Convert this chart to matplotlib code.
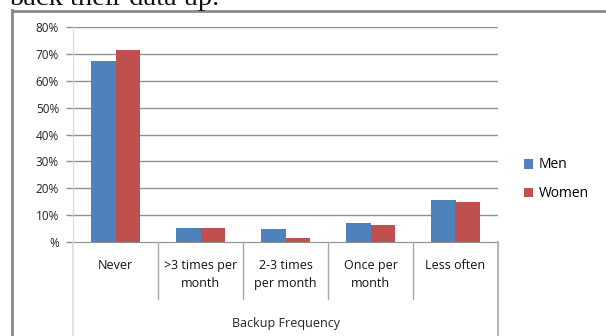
import matplotlib.pyplot as plt
from matplotlib.lines import Line2D
from matplotlib.transforms import blended_transform_factory
import numpy as np

# Backup frequency survey, share of respondents by gender
categories = ["Never", ">3 times per\nmonth", "2-3 times\nper month", "Once per\nmonth", "Less often"]
men = [0.673, 0.051, 0.048, 0.072, 0.156]
women = [0.714, 0.053, 0.016, 0.063, 0.149]
ytick_vals = [0.0, 0.1, 0.2, 0.3, 0.4, 0.5, 0.6, 0.7, 0.8]
ytick_labels = ["%", "10%", "20%", "30%", "40%", "50%", "60%", "70%", "80%"]

plt.rcParams['font.family'] = ['Open Sans', 'DejaVu Sans']

W, H = 606, 336
fig = plt.figure(figsize=(W / 100, H / 100), dpi=100)
fig.patch.set_facecolor("white")

# plot area in pixel terms
x0, x1, y0, y1 = 73, 498, 242, 27
ax = fig.add_axes([x0 / W, 1 - y0 / H, (x1 - x0) / W, (y0 - y1) / H])

blue = "#4F81BD"
red = "#C0504D"
grid_col = "#8f8f8f"

x = np.arange(len(categories))
bw = 0.29
ax.bar(x - bw / 2, men, width=bw, color=blue, label="Men", zorder=3)
ax.bar(x + bw / 2, women, width=bw, color=red, label="Women", zorder=3)

ax.set_xlim(-0.5, len(categories) - 0.5)
ax.set_ylim(0, 0.8)
ax.set_yticks(ytick_vals)
ax.set_yticklabels(ytick_labels, fontsize=8.5, color="#222222")
ax.tick_params(axis="y", length=5, color=grid_col, width=1, pad=5)
ax.set_xticks([])
for v in ytick_vals[1:]:
    ax.axhline(v, color=grid_col, lw=1, zorder=1)

for s in ["top", "right"]:
    ax.spines[s].set_visible(False)
ax.spines["left"].set_color("#d8d8d8")
ax.spines["bottom"].set_color(grid_col)

# category label boxes below the axis
for i in range(1, len(categories)):
    xf = (x0 + i * (x1 - x0) / len(categories)) / W
    fig.add_artist(Line2D([xf, xf], [1 - y0 / H, 1 - 299 / H], color="#a8a8a8", lw=1))
fig.add_artist(Line2D([x0 / W, x0 / W], [1 - y0 / H, 0], color="#dcdcdc", lw=1.2))
fig.add_artist(Line2D([x1 / W, x1 / W], [1 - y0 / H, 0], color="#a8a8a8", lw=1.2))

trans = blended_transform_factory(ax.transData, fig.transFigure)
for i, c in enumerate(categories):
    ax.text(i, 1 - 259 / H, c, transform=trans, ha="center", va="top",
            fontsize=9, color="#111111", linespacing=1.5)

fig.text((x0 + x1) / 2 / W, 1 - 323 / H, "Backup Frequency", ha="center", va="center",
         fontsize=9, color="#222222")

leg = fig.legend(loc="upper left", bbox_to_anchor=(511 / W, 1 - 145 / H), frameon=False,
                 fontsize=10, handlelength=0.7, handleheight=0.7, handletextpad=0.4,
                 labelspacing=1.0)

# outer chart frame and the caption line above it
fig.add_artist(Line2D([12 / W, 12 / W], [1 - 10 / H, 0], color="#8a8a8a", lw=2))
fig.add_artist(Line2D([12 / W, 1], [1 - 10.5 / H, 1 - 10.5 / H], color="#8a8a8a", lw=2))
fig.text(9 / W, 1 - 5 / H, "back their data up.", ha="left", va="baseline",
         fontsize=20.5, family="Liberation Serif", color="#111111")

fig.savefig("out.png", dpi=100)
